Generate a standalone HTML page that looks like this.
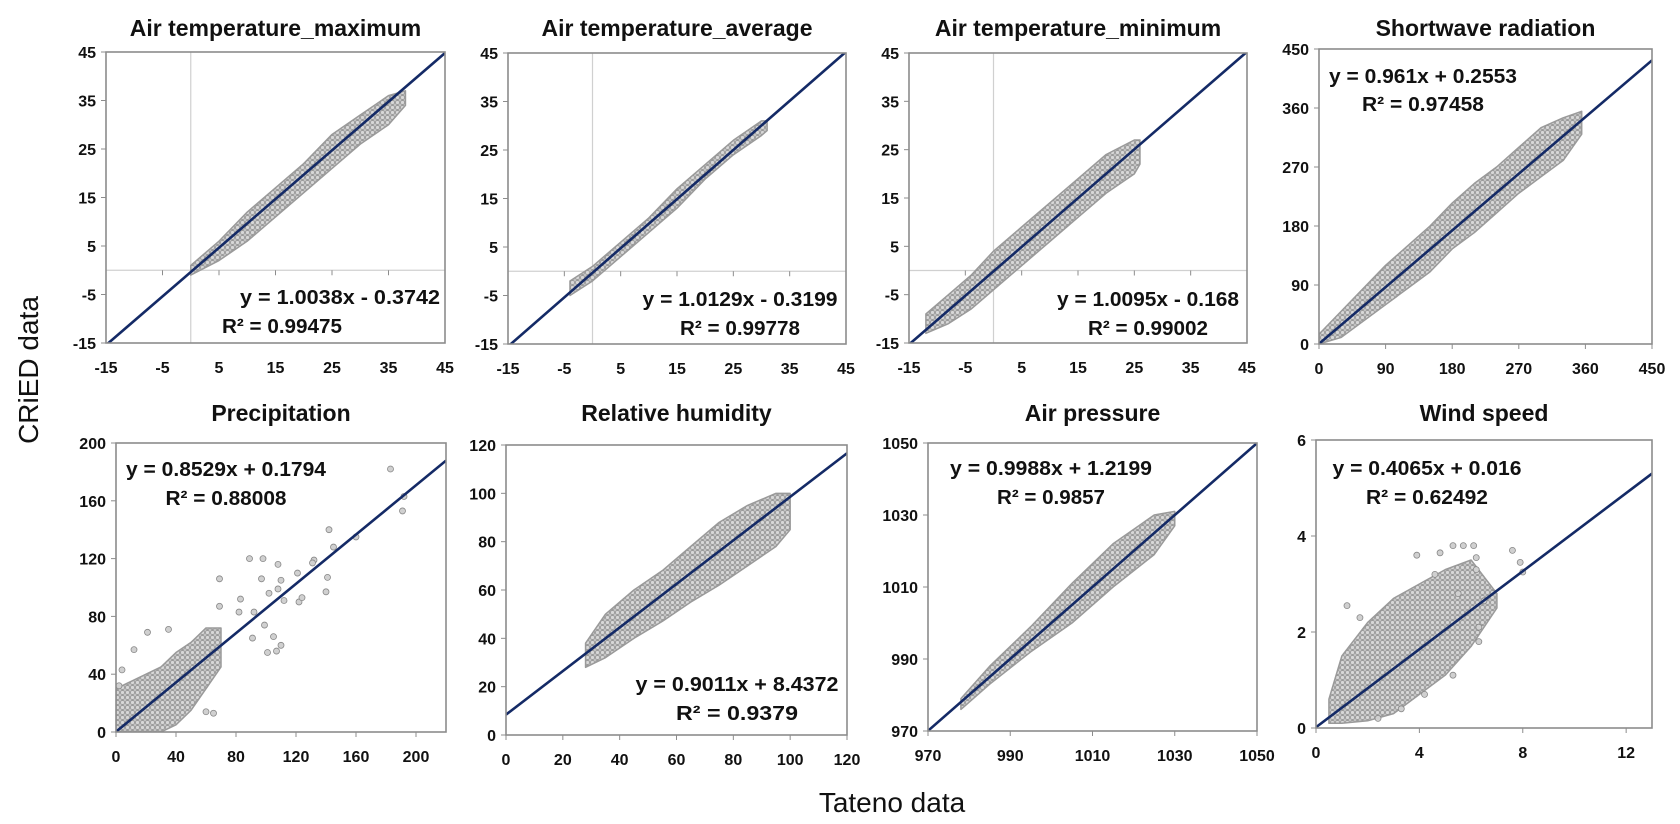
<!DOCTYPE html>
<html><head><meta charset="utf-8"><style>
html,body{margin:0;padding:0;background:#fff;}
svg{display:block;}
text{font-family:"Liberation Sans",sans-serif;}
</style></head><body>
<svg id="fig" width="1680" height="824" viewBox="0 0 1680 824" xmlns="http://www.w3.org/2000/svg">
<defs>
<pattern id="dots" width="5" height="5" patternUnits="userSpaceOnUse">
<rect width="5" height="5" fill="#c4c4c4"/>
<circle cx="2.5" cy="2.5" r="2" fill="#d8d8d8" stroke="#8a8a8a" stroke-width="0.7"/>
</pattern>
</defs>
<text x="0" y="0" transform="translate(38,370) rotate(-90)" text-anchor="middle" font-size="28" fill="#111">CRiED data</text>
<text x="892" y="812" text-anchor="middle" font-size="28" fill="#111">Tateno data</text>
<g id="panels"></g>
</svg>
<script>
// ---- data: cloud envelopes ----
const tmaxX=[0,5,10,15,20,25,30,35,38];
const tmaxLo=[-1,2,6,11,16,21,26,30,34];
const tmaxHi=[1,6,12,17,22,28,32,36,37];
const tavgX=[-4,0,5,10,15,20,25,30,31];
const tavgLo=[-5,-2,3,8,13,19,24,28,29];
const tavgHi=[-2,1,6,11,17,22,27,31,31];
const tminX=[-12,-8,-4,0,5,10,15,20,25,26];
const tminLo=[-13,-11,-8,-4,1,6,11,16,20,22];
const tminHi=[-9,-5,-1,4,9,14,19,24,27,27];
const swX=[0,30,60,90,120,150,180,210,240,270,300,330,355];
const swLo=[0,10,35,60,85,110,145,170,200,230,255,280,320];
const swHi=[15,50,85,120,150,180,215,245,270,300,330,345,355];
const prX=[0,10,20,30,40,50,60,70];
const prLo=[0,0,0,0,5,15,30,45];
const prHi=[30,35,40,45,55,62,72,72];
const rhX=[28,35,45,55,65,75,85,95,100];
const rhLo=[28,32,40,47,55,62,70,78,85];
const rhHi=[38,50,60,68,78,88,95,100,100];
const apX=[978,985,995,1005,1015,1025,1030];
const apLo=[976,983,992,1000,1010,1019,1027];
const apHi=[979,988,999,1011,1022,1030,1031];
const wsX=[0.5,1,2,3,4,5,6,7];
const wsLo=[0.1,0.1,0.15,0.3,0.7,1.1,1.7,2.5];
const wsHi=[0.6,1.5,2.2,2.7,3,3.3,3.5,2.8];
// outliers
const prOutX=[183,191,192,142,145,160,132,131,89,98,108,69,97,110,108,141,140,121,122,124,112,83,82,92,102,99,105,101,107,110,91,69,65,60,35,21,12,2,4];
const prOutY=[182,153,163,140,128,135,119,117,120,120,116,106,106,105,99,107,97,110,90,93,91,92,83,83,96,74,66,55,56,60,65,87,13,14,71,69,57,32,43];
const wsOutX=[3.9,4.8,5.3,5.7,6.1,6.2,7.6,7.9,8.0,6.2,4.6,5.5,6.5,6.3,6.3,5.3,4.2,3.3,2.4,1.7,1.2];
const wsOutY=[3.6,3.65,3.8,3.8,3.8,3.55,3.7,3.45,3.25,3.3,3.2,2.8,2.65,2.1,1.8,1.1,0.7,0.4,0.2,2.3,2.55];
// regression
const slopes=[1.0038,1.0129,1.0095,0.961,0.8529,0.9011,0.9988,0.4065];
const intercepts=[-0.3742,-0.3199,-0.168,0.2553,0.1794,8.4372,1.2199,0.016];
const eqLabels=["y = 1.0038x - 0.3742","y = 1.0129x - 0.3199","y = 1.0095x - 0.168","y = 0.961x + 0.2553","y = 0.8529x + 0.1794","y = 0.9011x + 8.4372","y = 0.9988x + 1.2199","y = 0.4065x + 0.016"];
const r2Labels=["R² = 0.99475","R² = 0.99778","R² = 0.99002","R² = 0.97458","R² = 0.88008","R² = 0.9379","R² = 0.9857","R² = 0.62492"];
const titles=["Air temperature_maximum","Air temperature_average","Air temperature_minimum","Shortwave radiation","Precipitation","Relative humidity","Air pressure","Wind speed"];
const tempTicks=[-15,-5,5,15,25,35,45];
const swTicks=[0,90,180,270,360,450];
const prXTicks=[0,40,80,120,160,200];
const prYTicks=[0,40,80,120,160,200];
const rhTicks=[0,20,40,60,80,100,120];
const apTicks=[970,990,1010,1030,1050];
const wsXTicks=[0,4,8,12];
const wsYTicks=[0,2,4,6];

const panels=[
 {box:[106,52,445,343],x:[-15,45],y:[-15,45],xt:tempTicks,yt:tempTicks,cx:tmaxX,lo:tmaxLo,hi:tmaxHi,zero:true,eq:[340,297,282,326],eqw:[200,120],ty:28},
 {box:[508,53,846,344],x:[-15,45],y:[-15,45],xt:tempTicks,yt:tempTicks,cx:tavgX,lo:tavgLo,hi:tavgHi,zero:true,eq:[740,299,740,328],eqw:[195,120],ty:28},
 {box:[909,53,1247,343],x:[-15,45],y:[-15,45],xt:tempTicks,yt:tempTicks,cx:tminX,lo:tminLo,hi:tminHi,zero:true,eq:[1148,299,1148,328],eqw:[182,120],ty:28},
 {box:[1319,49,1652,344],x:[0,450],y:[0,450],xt:swTicks,yt:swTicks,cx:swX,lo:swLo,hi:swHi,eq:[1423,76,1423,104],eqw:[188,122],ty:28},
 {box:[116,443,446,732],x:[0,220],y:[0,200],xt:prXTicks,yt:prYTicks,cx:prX,lo:prLo,hi:prHi,ox:prOutX,oy:prOutY,eq:[226,469,226,498],eqw:[200,121],ty:413},
 {box:[506,445,847,735],x:[0,120],y:[0,120],xt:rhTicks,yt:rhTicks,cx:rhX,lo:rhLo,hi:rhHi,eq:[737,684,737,713],eqw:[203,122],ty:413},
 {box:[928,443,1257,731],x:[970,1050],y:[970,1050],xt:apTicks,yt:apTicks,cx:apX,lo:apLo,hi:apHi,eq:[1051,468,1051,497],eqw:[202,108],ty:413},
 {box:[1316,440,1652,728],x:[0,13],y:[0,6],xt:wsXTicks,yt:wsYTicks,cx:wsX,lo:wsLo,hi:wsHi,ox:wsOutX,oy:wsOutY,eq:[1427,468,1427,497],eqw:[189,122],ty:413}
];
const NS="http://www.w3.org/2000/svg";
const root=document.getElementById('panels');
function mk(tag,attrs,parent){const e=document.createElementNS(NS,tag);for(const k in attrs)e.setAttribute(k,attrs[k]);parent.appendChild(e);return e;}
panels.forEach((p,i)=>{
 const [l,t,r,b]=p.box;
 const sx=v=>l+(v-p.x[0])/(p.x[1]-p.x[0])*(r-l);
 const sy=v=>b-(v-p.y[0])/(p.y[1]-p.y[0])*(b-t);
 const g=mk('g',{},root);
 
 
 const cp=mk('clipPath',{id:'cp'+i},g);
 mk('rect',{x:l,y:t,width:r-l,height:b-t},cp);
 mk('rect',{x:l,y:t,width:r-l,height:b-t,fill:'#fff'},g);
 const tt=mk('text',{x:(l+r)/2,y:p.ty+8,'text-anchor':'middle','font-size':23,'font-weight':'bold',fill:'#111'},g);
 tt.textContent=titles[i];
 
 
 const zy=p.zero?sy(0):b;
 if(p.zero){
  const gl=mk('line',{x1:l,x2:r,y1:zy,y2:zy,stroke:'#d0d0d0','stroke-width':1.2},g);
  
  
  const gv=mk('line',{x1:sx(0),x2:sx(0),y1:t,y2:b,stroke:'#d0d0d0','stroke-width':1.2},g);
  
  
 }
 // cloud
 let d='M'+sx(p.cx[0])+','+sy(p.lo[0]);
 for(let k=1;k<p.cx.length;k++)d+=' L'+sx(p.cx[k])+','+sy(p.lo[k]);
 for(let k=p.cx.length-1;k>=0;k--)d+=' L'+sx(p.cx[k])+','+sy(p.hi[k]);
 d+=' Z';
 const cl=mk('path',{d:d,fill:'url(#dots)',stroke:'#9a9a9a','stroke-width':1.5,'stroke-linejoin':'round','clip-path':'url(#cp'+i+')'},g);
 
 
 if(p.ox){p.ox.forEach((xv,k)=>{
  const c=mk('circle',{cx:sx(xv),cy:sy(p.oy[k]),r:3,fill:'#d0d0d0',stroke:'#888','stroke-width':0.8},g);
  
  
 });}
 // regression line
 const x0=p.x[0],x1=p.x[1];
 const rl=mk('line',{x1:sx(x0),y1:sy(slopes[i]*x0+intercepts[i]),x2:sx(x1),y2:sy(slopes[i]*x1+intercepts[i]),stroke:'#142a66','stroke-width':2.6,'clip-path':'url(#cp'+i+')'},g);
 
 
 const bx=mk('rect',{x:l,y:t,width:r-l,height:b-t,fill:'none',stroke:'#8c8c8c','stroke-width':1.6},g);
 
 
 // y ticks
 p.yt.forEach(v=>{
  const y=sy(v);
  mk('line',{x1:l-5,x2:l,y1:y,y2:y,stroke:'#8c8c8c','stroke-width':1},g);
  const tx=mk('text',{x:l-10,y:y+6,'text-anchor':'end','font-size':16,'font-weight':'bold',fill:'#111'},g);
  tx.textContent=v;
  
  
 });
 p.xt.forEach(v=>{
  const x=sx(v);
  mk('line',{x1:x,x2:x,y1:zy,y2:zy+5,stroke:'#8c8c8c','stroke-width':1},g);
  const tx=mk('text',{x:x,y:b+30,'text-anchor':'middle','font-size':16,'font-weight':'bold',fill:'#111'},g);
  tx.textContent=v;
  
  
 });
 const e1=mk('text',{x:p.eq[0],y:p.eq[1]+7,'text-anchor':'middle','font-size':20,'font-weight':'bold',fill:'#111',textLength:p.eqw[0],lengthAdjust:'spacingAndGlyphs'},g);
 e1.textContent=eqLabels[i];
 
 
 const e2=mk('text',{x:p.eq[2],y:p.eq[3]+7,'text-anchor':'middle','font-size':20,'font-weight':'bold',fill:'#111',textLength:p.eqw[1],lengthAdjust:'spacingAndGlyphs'},g);
 e2.textContent=r2Labels[i];
 
 
});
</script>
</body></html>
